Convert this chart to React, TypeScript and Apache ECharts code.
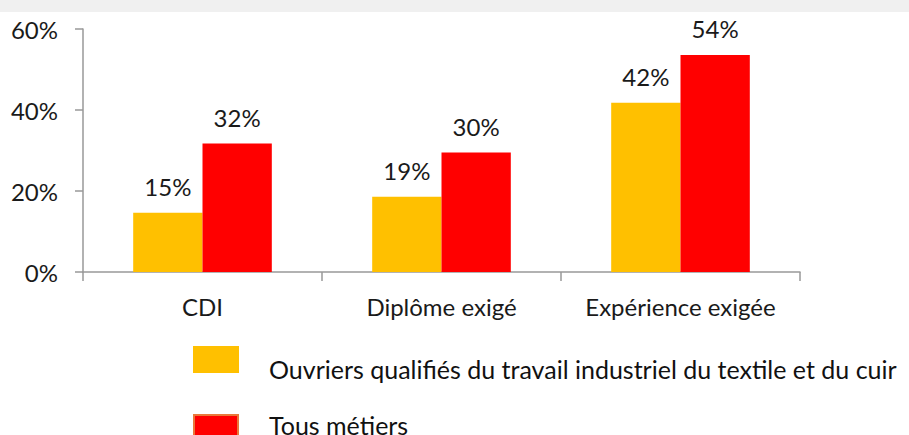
import React, { useEffect, useRef } from "react";
import * as echarts from "echarts";

const categories = ["CDI", "Diplôme exigé", "Expérience exigée"];
const seriesNames = [
  "Ouvriers qualifiés du travail industriel du textile et du cuir",
  "Tous métiers",
];
const ouvriers = [14.6, 18.6, 41.8];
const tousMetiers = [31.7, 29.5, 53.6];
const yTicks = [0, 20, 40, 60];
const colors = ["#FFC000", "#FF0000"];

const FONT = "Lato";

export default function App() {
  const ref = useRef<HTMLDivElement>(null);
  useEffect(() => {
    document.body.style.margin = "0";
    const chart = echarts.init(ref.current!, null, { renderer: "svg" });
    const labelCfg = {
      show: true,
      position: "top",
      distance: 14,
      color: "#1a1a1a",
      fontFamily: FONT,
      fontSize: 24,
      formatter: (p: any) => Math.round(p.value) + "%",
    };
    const legendTextStyle = {
      fontFamily: FONT,
      fontSize: 25,
      fill: "#111",
      verticalAlign: "middle",
      align: "left",
    };
    chart.setOption({
      animation: false,
      backgroundColor: "#ffffff",
      graphic: [
        {
          type: "rect",
          left: 0,
          top: 0,
          shape: { width: 909, height: 12 },
          style: { fill: "#f0f0f0" },
          silent: true,
        },
        {
          type: "rect",
          shape: { x: 193, y: 346, width: 46, height: 27 },
          style: { fill: colors[0] },
          silent: true,
        },
        {
          type: "text",
          x: 269,
          y: 369,
          style: { ...legendTextStyle, text: seriesNames[0] },
          silent: true,
        },
        {
          type: "rect",
          shape: { x: 194, y: 415, width: 44, height: 28 },
          style: { fill: colors[1], stroke: "#E9783A", lineWidth: 2 },
          silent: true,
        },
        {
          type: "text",
          x: 269,
          y: 425,
          style: { ...legendTextStyle, text: seriesNames[1] },
          silent: true,
        },
      ],
      grid: { left: 83, right: 109, top: 29, bottom: 163, containLabel: false },
      xAxis: {
        type: "category",
        data: categories,
        axisLine: { lineStyle: { color: "#999", width: 1.5 } },
        axisTick: { show: true, length: 9, lineStyle: { color: "#999", width: 1.5 } },
        axisLabel: {
          interval: 0,
          fontFamily: FONT,
          fontSize: 24,
          color: "#1a1a1a",
          margin: 22,
        },
      },
      yAxis: {
        type: "value",
        min: yTicks[0],
        max: yTicks[yTicks.length - 1],
        interval: 20,
        splitLine: { show: false },
        axisLine: { show: true, lineStyle: { color: "#999", width: 1.5 } },
        axisTick: { show: true, length: 8, lineStyle: { color: "#999", width: 1.5 } },
        axisLabel: {
          fontFamily: FONT,
          fontSize: 24,
          color: "#1a1a1a",
          margin: 25,
          formatter: (v: number) => v + "%",
        },
      },
      series: [
        {
          name: seriesNames[0],
          type: "bar",
          data: ouvriers,
          barWidth: "29%",
          barGap: "0%",
          itemStyle: { color: colors[0] },
          label: labelCfg,
        },
        {
          name: seriesNames[1],
          type: "bar",
          data: tousMetiers,
          barWidth: "29%",
          barGap: "0%",
          itemStyle: { color: colors[1] },
          label: labelCfg,
        },
      ],
    });
    return () => chart.dispose();
  }, []);
  return (
    <div
      ref={ref}
      style={{ position: "absolute", left: 0, top: 0, width: 909, height: 435 }}
    />
  );
}
